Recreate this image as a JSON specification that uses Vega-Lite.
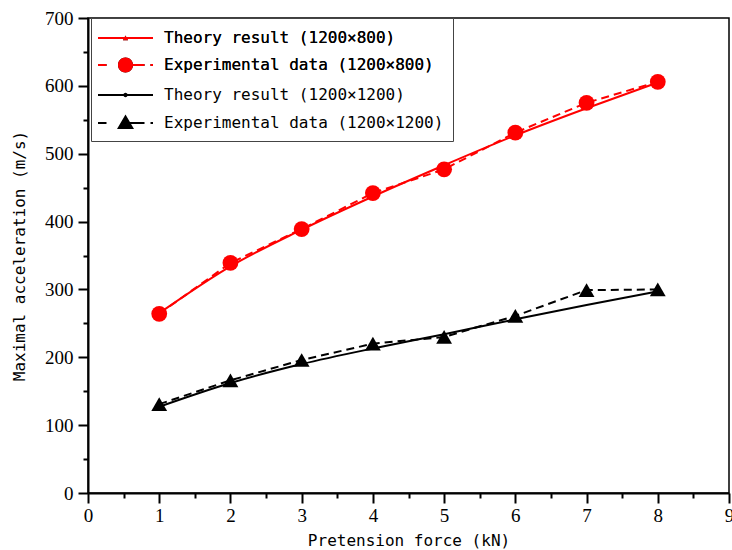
{
  "$schema": "https://vega.github.io/schema/vega-lite/v6.json",
  "width": 641,
  "height": 475,
  "autosize": "none",
  "padding": {"left": 88, "top": 18, "right": 3, "bottom": 57},
  "background": "white",
  "config": {
    "view": {"stroke": "black", "strokeWidth": 1.5},
    "legend": {
      "orient": "none",
      "legendX": 3,
      "legendY": 0,
      "strokeColor": "#444444",
      "fillColor": "white",
      "padding": 9,
      "symbolSize": 400,
      "symbolOpacity": 1,
      "labelFont": "DejaVu Sans Mono",
      "labelFontSize": 16,
      "labelColor": "black",
      "labelOffset": 42,
      "rowPadding": 8,
      "labelLimit": 400
    }
  },
  "data": {
    "values": [
      {"force": 1, "acc": 265, "series": "Theory result (1200×800)"},
      {"force": 2, "acc": 334, "series": "Theory result (1200×800)"},
      {"force": 3, "acc": 388, "series": "Theory result (1200×800)"},
      {"force": 4, "acc": 437, "series": "Theory result (1200×800)"},
      {"force": 5, "acc": 483, "series": "Theory result (1200×800)"},
      {"force": 6, "acc": 527, "series": "Theory result (1200×800)"},
      {"force": 7, "acc": 567, "series": "Theory result (1200×800)"},
      {"force": 8, "acc": 605, "series": "Theory result (1200×800)"},
      {"force": 1, "acc": 264, "series": "Experimental data (1200×800)"},
      {"force": 2, "acc": 339, "series": "Experimental data (1200×800)"},
      {"force": 3, "acc": 389, "series": "Experimental data (1200×800)"},
      {"force": 4, "acc": 442, "series": "Experimental data (1200×800)"},
      {"force": 5, "acc": 477, "series": "Experimental data (1200×800)"},
      {"force": 6, "acc": 531, "series": "Experimental data (1200×800)"},
      {"force": 7, "acc": 575, "series": "Experimental data (1200×800)"},
      {"force": 8, "acc": 606, "series": "Experimental data (1200×800)"},
      {"force": 1, "acc": 127, "series": "Theory result (1200×1200)"},
      {"force": 2, "acc": 162, "series": "Theory result (1200×1200)"},
      {"force": 3, "acc": 190, "series": "Theory result (1200×1200)"},
      {"force": 4, "acc": 213, "series": "Theory result (1200×1200)"},
      {"force": 5, "acc": 234, "series": "Theory result (1200×1200)"},
      {"force": 6, "acc": 256, "series": "Theory result (1200×1200)"},
      {"force": 7, "acc": 277, "series": "Theory result (1200×1200)"},
      {"force": 8, "acc": 297, "series": "Theory result (1200×1200)"},
      {"force": 1, "acc": 131, "series": "Experimental data (1200×1200)"},
      {"force": 2, "acc": 166, "series": "Experimental data (1200×1200)"},
      {"force": 3, "acc": 196, "series": "Experimental data (1200×1200)"},
      {"force": 4, "acc": 220, "series": "Experimental data (1200×1200)"},
      {"force": 5, "acc": 230, "series": "Experimental data (1200×1200)"},
      {"force": 6, "acc": 261, "series": "Experimental data (1200×1200)"},
      {"force": 7, "acc": 299, "series": "Experimental data (1200×1200)"},
      {"force": 8, "acc": 300, "series": "Experimental data (1200×1200)"}
    ]
  },
  "encoding": {
    "x": {
      "field": "force",
      "type": "quantitative",
      "scale": {"domain": [0, 9], "nice": false, "zero": false},
      "axis": {
        "title": "Pretension force (kN)",
        "values": [0, 0.5, 1, 1.5, 2, 2.5, 3, 3.5, 4, 4.5, 5, 5.5, 6, 6.5, 7, 7.5, 8, 8.5, 9],
        "tickSize": {"condition": {"test": "datum.value % 1 !== 0", "value": 5}, "value": 10},
        "labelExpr": "datum.value % 1 === 0 ? format(datum.value, 'd') : ''",
        "grid": false,
        "domainColor": "black",
        "domainWidth": 2,
        "tickColor": "black",
        "tickWidth": 2,
        "labelFont": "Liberation Serif",
        "labelFontSize": 19,
        "labelColor": "black",
        "labelPadding": 3,
        "labelFlush": false,
        "labelOverlap": false,
        "titleFont": "DejaVu Sans Mono",
        "titleFontSize": 16,
        "titleFontWeight": "normal",
        "titleColor": "black",
        "titlePadding": 7
      }
    },
    "y": {
      "field": "acc",
      "type": "quantitative",
      "scale": {"domain": [0, 700], "nice": false},
      "axis": {
        "title": "Maximal acceleration (m/s)",
        "values": [0, 50, 100, 150, 200, 250, 300, 350, 400, 450, 500, 550, 600, 650, 700],
        "tickSize": {"condition": {"test": "datum.value % 100 !== 0", "value": 5}, "value": 10},
        "labelExpr": "datum.value % 100 === 0 ? format(datum.value, 'd') : ''",
        "grid": false,
        "domainColor": "black",
        "domainWidth": 2,
        "tickColor": "black",
        "tickWidth": 2,
        "labelFont": "Liberation Serif",
        "labelFontSize": 19,
        "labelColor": "black",
        "labelPadding": 5,
        "labelFlush": false,
        "labelOverlap": false,
        "titleFont": "DejaVu Sans Mono",
        "titleFontSize": 16,
        "titleFontWeight": "normal",
        "titleColor": "black",
        "titlePadding": 17
      }
    }
  },
  "layer": [
    {
      "transform": [{"filter": "indexof(datum.series, 'Theory') === 0"}],
      "mark": {"type": "line", "interpolate": "monotone", "strokeWidth": 2},
      "encoding": {
        "color": {
          "field": "series",
          "type": "nominal",
          "scale": {
            "domain": ["Theory result (1200×800)", "Experimental data (1200×800)", "Theory result (1200×1200)", "Experimental data (1200×1200)"],
            "range": ["#ff0000", "#ff0000", "#000000", "#000000"]
          },
          "legend": null
        }
      }
    },
    {
      "transform": [{"filter": "indexof(datum.series, 'Experimental') === 0"}],
      "mark": {"type": "line", "strokeWidth": 2, "strokeDash": [8, 5]},
      "encoding": {
        "color": {"field": "series", "type": "nominal", "legend": null}
      }
    },
    {
      "transform": [{"filter": "indexof(datum.series, 'Experimental') === 0"}],
      "mark": {"type": "point", "filled": true, "opacity": 1, "size": 250},
      "encoding": {
        "color": {"field": "series", "type": "nominal", "legend": null},
        "shape": {
          "field": "series",
          "type": "nominal",
          "scale": {
            "domain": ["Experimental data (1200×800)", "Experimental data (1200×1200)"],
            "range": ["circle", "triangle-up"]
          },
          "legend": null
        }
      }
    },
    {
      "mark": {"type": "point", "filled": true, "opacity": 0, "color": "#000000"},
      "encoding": {
        "shape": {
          "field": "series",
          "type": "nominal",
          "scale": {
            "domain": ["Theory result (1200×800)", "Experimental data (1200×800)", "Theory result (1200×1200)", "Experimental data (1200×1200)"],
            "range": [
              "M-1.3,-0.1L4.2,-0.1L4.2,0.1L-1.3,0.1ZM1.2,0.22L1.45,-0.25L1.7,0.22Z",
              "M-1.3,-0.1L-0.45,-0.1L-0.45,0.1L-1.3,0.1ZM1.45,-0.1L3.35,-0.1L3.35,0.1L1.45,0.1ZM3.95,-0.1L4.2,-0.1L4.2,0.1L3.95,0.1ZM2.2,0A0.75,0.75,0,1,1,0.7,0A0.75,0.75,0,1,1,2.2,0Z",
              "M-1.3,-0.1L4.2,-0.1L4.2,0.1L-1.3,0.1ZM1.67,0A0.22,0.22,0,1,1,1.23,0A0.22,0.22,0,1,1,1.67,0Z",
              "M-1.3,-0.1L-0.45,-0.1L-0.45,0.1L-1.3,0.1ZM1.45,-0.1L3.35,-0.1L3.35,0.1L1.45,0.1ZM3.95,-0.1L4.2,-0.1L4.2,0.1L3.95,0.1ZM0.6,0.6L1.45,-0.85L2.3,0.6Z"
            ]
          },
          "legend": {"title": null}
        }
      }
    },
    {
      "transform": [{"filter": "indexof(datum.series, '×800') >= 0"}],
      "mark": {"type": "point", "filled": true, "opacity": 0, "color": "#ff0000"},
      "encoding": {
        "shape": {
          "field": "series",
          "type": "nominal",
          "scale": {
            "domain": ["Theory result (1200×800)", "Experimental data (1200×800)"],
            "range": [
              "M-1.3,-0.1L4.2,-0.1L4.2,0.1L-1.3,0.1ZM1.2,0.22L1.45,-0.25L1.7,0.22Z",
              "M-1.3,-0.1L-0.45,-0.1L-0.45,0.1L-1.3,0.1ZM1.45,-0.1L3.35,-0.1L3.35,0.1L1.45,0.1ZM3.95,-0.1L4.2,-0.1L4.2,0.1L3.95,0.1ZM2.2,0A0.75,0.75,0,1,1,0.7,0A0.75,0.75,0,1,1,2.2,0Z"
            ]
          },
          "legend": {"title": null, "strokeColor": "transparent", "fillColor": "transparent"}
        }
      }
    }
  ],
  "resolve": {"scale": {"shape": "independent"}}
}
